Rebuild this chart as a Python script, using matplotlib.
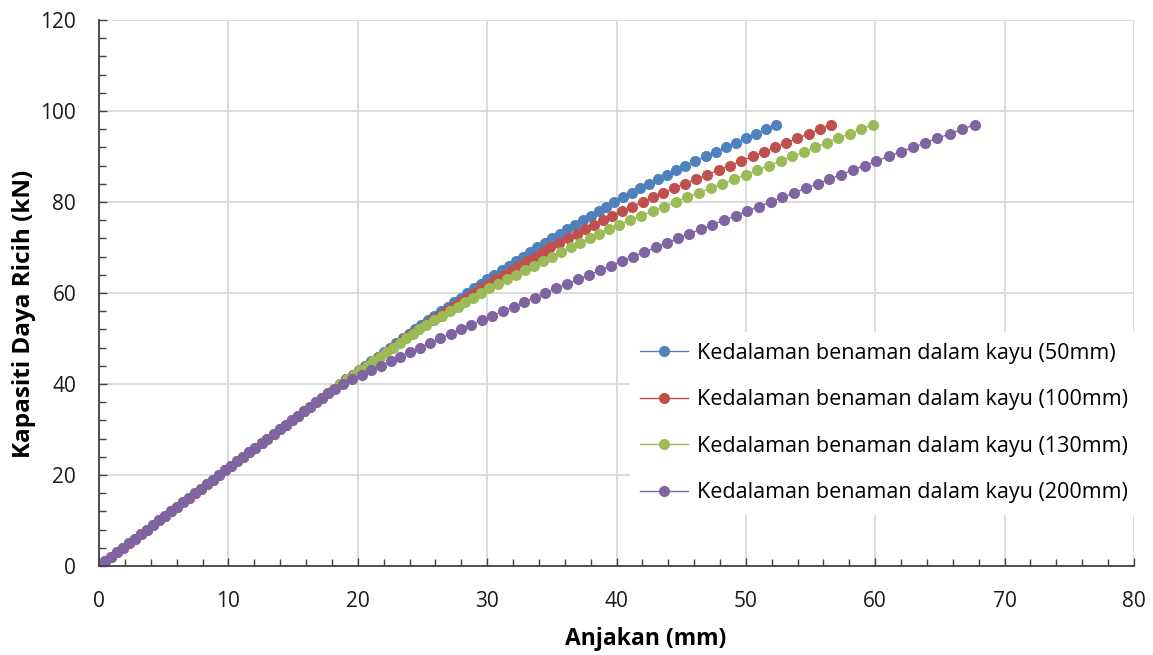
import matplotlib
matplotlib.use("Agg")
import matplotlib.pyplot as plt
from matplotlib.ticker import MultipleLocator

plt.rcParams['font.family'] = ['Open Sans', 'DejaVu Sans']

# Load levels (kN) shared by all series
load_kn = [0, 1, 2, 3, 4, 5, 6, 7, 8, 9, 10, 11, 12, 13, 14, 15, 16, 17, 18, 19,
           20, 21, 22, 23, 24, 25, 26, 27, 28, 29, 30, 31, 32, 33, 34, 35, 36, 37, 38, 39,
           40, 41, 42, 43, 44, 45, 46, 47, 48, 49, 50, 51, 52, 53, 54, 55, 56, 57, 58, 59,
           60, 61, 62, 63, 64, 65, 66, 67, 68, 69, 70, 71, 72, 73, 74, 75, 76, 77, 78, 79,
           80, 81, 82, 83, 84, 85, 86, 87, 88, 89, 90, 91, 92, 93, 94, 95, 96, 97]

# Displacement (mm) in the common elastic range (loads 0..37 kN)
disp_elastic = [0.00, 0.47, 0.93, 1.40, 1.86, 2.33, 2.79, 3.26, 3.72, 4.19,
                4.65, 5.12, 5.58, 6.05, 6.51, 6.98, 7.44, 7.91, 8.37, 8.84,
                9.30, 9.77, 10.23, 10.70, 11.16, 11.63, 12.09, 12.56, 13.02, 13.49,
                13.95, 14.42, 14.88, 15.35, 15.81, 16.28, 16.74, 17.21]

# Displacement (mm) for loads 38..97 kN
disp_50 = [17.67, 18.14, 18.60, 19.10, 19.60, 20.10, 20.58, 21.06, 21.54, 22.02,
           22.50, 22.98, 23.46, 23.94, 24.42, 24.90, 25.41, 25.92, 26.43, 26.94,
           27.45, 27.96, 28.47, 28.98, 29.49, 30.00, 30.56, 31.11, 31.67, 32.22,
           32.78, 33.33, 33.89, 34.44, 35.00, 35.60, 36.20, 36.81, 37.41, 38.01,
           38.61, 39.22, 39.82, 40.48, 41.16, 41.85, 42.53, 43.22, 43.90, 44.59,
           45.31, 46.09, 46.88, 47.66, 48.44, 49.22, 50.00, 50.77, 51.53, 52.30]

disp_100 = [17.67, 18.14, 18.60, 19.12, 19.64, 20.15, 20.65, 21.15, 21.65, 22.15,
            22.65, 23.15, 23.65, 24.15, 24.65, 25.16, 25.71, 26.26, 26.81, 27.36,
            27.91, 28.46, 29.01, 29.56, 30.12, 30.71, 31.31, 31.90, 32.50, 33.10,
            33.69, 34.29, 34.88, 35.55, 36.23, 36.92, 37.60, 38.29, 38.97, 39.66,
            40.40, 41.21, 42.02, 42.82, 43.63, 44.44, 45.26, 46.14, 47.02, 47.89,
            48.77, 49.65, 50.52, 51.39, 52.26, 53.13, 53.99, 54.86, 55.73, 56.60]

disp_130 = [17.67, 18.14, 18.60, 19.14, 19.68, 20.20, 20.71, 21.21, 21.72, 22.22,
            22.73, 23.23, 23.74, 24.24, 24.75, 25.30, 25.90, 26.51, 27.11, 27.71,
            28.31, 28.92, 29.52, 30.14, 30.83, 31.53, 32.22, 32.92, 33.61, 34.31,
            35.00, 35.74, 36.47, 37.21, 37.94, 38.68, 39.41, 40.18, 41.05, 41.93,
            42.81, 43.68, 44.56, 45.45, 46.36, 47.27, 48.18, 49.09, 50.00, 50.89,
            51.79, 52.68, 53.57, 54.46, 55.36, 56.24, 57.13, 58.02, 58.91, 59.80]

disp_200 = [17.70, 18.25, 18.88, 19.57, 20.30, 21.04, 21.79, 22.54, 23.28, 24.03,
            24.78, 25.56, 26.37, 27.18, 27.98, 28.79, 29.60, 30.41, 31.23, 32.05,
            32.87, 33.69, 34.51, 35.34, 36.19, 37.03, 37.88, 38.73, 39.58, 40.43,
            41.29, 42.16, 43.02, 43.88, 44.74, 45.63, 46.52, 47.41, 48.30, 49.20,
            50.09, 51.00, 51.91, 52.82, 53.73, 54.64, 55.55, 56.45, 57.36, 58.27,
            59.18, 60.09, 61.04, 61.98, 62.92, 63.87, 64.81, 65.77, 66.74, 67.70]

labels = ["Kedalaman benaman dalam kayu (50mm)",
          "Kedalaman benaman dalam kayu (100mm)",
          "Kedalaman benaman dalam kayu (130mm)",
          "Kedalaman benaman dalam kayu (200mm)"]
colors = ["#4F81BD", "#C0504D", "#9BBB59", "#8064A2"]
series = [disp_50, disp_100, disp_130, disp_200]

fig = plt.figure(figsize=(11.53, 6.55), dpi=100)
ax = fig.add_axes([0.0859, 0.1359, 0.8976, 0.8336])

for disp, lab, col in zip(series, labels, colors):
    x = disp_elastic + disp
    ax.plot(x, load_kn, color=col, lw=1.0, marker='o', markersize=8,
            markeredgewidth=0, label=lab)

ax.set_xlim(0, 80)
ax.set_ylim(0, 120)
ax.xaxis.set_major_locator(MultipleLocator(10))
ax.xaxis.set_minor_locator(MultipleLocator(2))
ax.yaxis.set_major_locator(MultipleLocator(20))
ax.yaxis.set_minor_locator(MultipleLocator(4))
ax.grid(True, which='major', color='#D9D9D9', lw=1.3)
ax.set_axisbelow(True)
for s in ['top', 'right']:
    ax.spines[s].set_visible(False)
for s in ['left', 'bottom']:
    ax.spines[s].set_color('#404040')
    ax.spines[s].set_linewidth(1.3)
ax.tick_params(which='both', direction='in', color='#404040', width=1.0,
               labelsize=15, labelcolor='#1a1a1a')
ax.tick_params(axis='x', which='both', pad=18)
ax.tick_params(axis='y', which='both', pad=16.5)
ax.tick_params(which='major', length=6)
ax.tick_params(which='minor', length=5)

ax.set_xlabel("Anjakan (mm)", fontsize=16.5, fontweight='bold')
ax.set_ylabel("Kapasiti Daya Ricih (kN)", fontsize=17.5, fontweight='bold')
ax.xaxis.set_label_coords(0.528, -0.112)
ax.yaxis.set_label_coords(-0.061, 0.461)

leg = ax.legend(loc='center right', bbox_to_anchor=(1.005, 0.262), frameon=True,
                fontsize=15.5, handlelength=2.2, handletextpad=0.45,
                labelspacing=1.18, borderpad=0.5, borderaxespad=0.0,
                fancybox=False)
leg.get_frame().set_edgecolor('white')
leg.get_frame().set_facecolor('white')
leg.get_frame().set_alpha(1.0)
for h in leg.legend_handles:
    h.set_markersize(8)

fig.savefig("out.png", dpi=100)
